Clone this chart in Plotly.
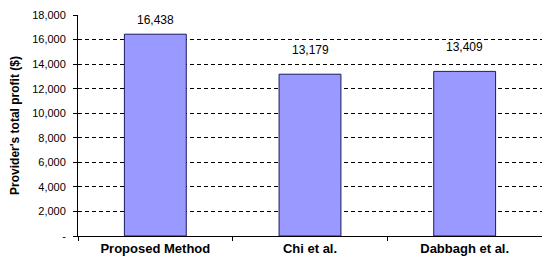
import plotly.graph_objects as go

methods = ["Proposed Method", "Chi et al.", "Dabbagh et al."]
profit = [16438, 13179, 13409]

tick_vals = [0, 2000, 4000, 6000, 8000, 10000, 12000, 14000, 16000, 18000]
tick_text = ["-", "2,000", "4,000", "6,000", "8,000", "10,000", "12,000", "14,000", "16,000", "18,000"]
grid_vals = tick_vals[1:-1]
label_shift = [5, 15, 15]

fig = go.Figure()
fig.add_trace(go.Bar(
    x=methods, y=profit,
    marker=dict(color="#9999FF", line=dict(color="#1a1a60", width=1)),
))
# labels live on an overlay axis so the dashed grid stays behind the bars
fig.add_trace(go.Scatter(x=methods, y=[None, None, None], yaxis="y2", showlegend=False, hoverinfo="skip"))

for m, v, s in zip(methods, profit, label_shift):
    fig.add_annotation(x=m, y=v, text=f"{v:,}", showarrow=False, yanchor="bottom", yshift=s,
                       font=dict(family="Arial", size=12, color="black"))

fig.update_layout(
    width=534, height=248,
    margin=dict(l=70, r=0, t=7, b=20, autoexpand=False),
    paper_bgcolor="white", plot_bgcolor="white",
    showlegend=False,
    bargap=0.6,
    font=dict(family="Arial", color="black"),
    xaxis=dict(
        showline=True, linecolor="black", linewidth=1,
        ticks="outside", tickson="boundaries", ticklen=4, tickcolor="black",
        tickfont=dict(size=13, weight="bold"), automargin=False,
    ),
    yaxis=dict(
        range=[0, 18001], tickvals=grid_vals,
        showgrid=True, gridcolor="black", gridwidth=1, griddash="4px,3px",
        showticklabels=False, showline=False, zeroline=False,
    ),
    yaxis2=dict(
        overlaying="y", side="left", range=[0, 18001], tickvals=tick_vals, ticktext=tick_text,
        showgrid=False, showline=True, linecolor="black", linewidth=1, zeroline=False,
        ticks="outside", ticklen=4, tickcolor="black", ticklabelstandoff=5,
        tickfont=dict(size=11), automargin=False,
        title=dict(text="Provider's total profit ($)", font=dict(size=12, weight="bold"), standoff=12),
    ),
)

fig.write_html("out.html")
